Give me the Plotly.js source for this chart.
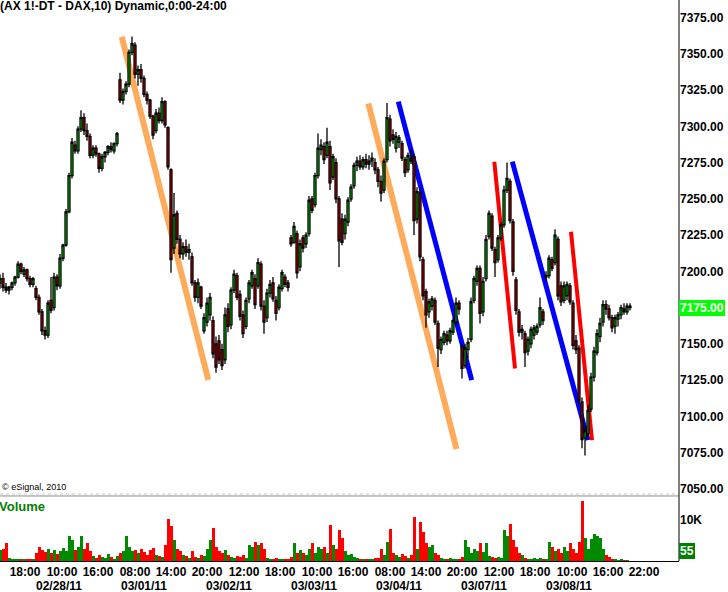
<!DOCTYPE html>
<html>
<head>
<meta charset="utf-8">
<script src="https://cdn.plot.ly/plotly-3.0.1.min.js"></script>
<style>html,body{margin:0;padding:0;background:#fff;}#chart{width:728px;height:592px;}</style>
</head>
<body>
<div id="chart"></div>
<script>
// ---- Data (10-minute DAX future bars, shown every third bar) ----
const open = [
7192,7195,7189,7187,7189,7192,7196,7205,7198,7201,7195,7191,
7188,7182,7172,7159,7156,7180,7175,7196,7190,7209,7218,7241,7266,7287,7283,7298,7306,7297,7293,7280,7285,7281,7271,7279,7282,7286,7283,7288,
7332,7318,7324,7329,7351,7356,7336,7339,7333,7322,7318,7307,7297,7309,7304,7317,7299,7270,7216,7240,7222,7212,7217,7213,7210,7192,7182,7189,
7159,7165,7170,7166,7150,7152,7146,7139,7174,7163,7187,7197,7184,7170,7162,7181,7190,7195,7190,7205,7176,7168,7185,7192,7180,7175,7188,7196,7192,
7223,7220,7226,7203,7223,7219,7226,7250,7246,7266,7284,7286,7280,7286,7265,7275,7250,7236,7226,7234,7250,7259,7273,7276,7272,7277,7274,7276,
7275,7270,7262,7256,7277,7305,7294,7285,7289,7288,7277,7270,7278,7279,7236,7254,7208,7186,7172,7176,7180,7164,7146,7151,7156,7152,7158,7165,7178,
7148,7135,7146,7153,7180,7193,7202,7172,7195,7224,7238,7215,7208,7223,7232,7256,7262,7234,7194,7172,7158,7157,7145,7150,7156,7158,7163,7172,
7196,7197,7208,7206,7222,7190,7180,7183,7190,7178,7152,7147,7110,7085,7088,7105,7127,7144,7155,7165,7177,7174,7168,7162,7167,7170,7174,7172,7176
];
const high = [
7198,7199,7192,7190,7193,7197,7207,7206,7203,7202,7197,7196,
7190,7184,7174,7162,7180,7196,7199,7198,7212,7219,7243,7268,7292,7290,7300,7311,7309,7302,7295,7287,7287,7282,7281,7283,7287,7289,7289,7296,
7337,7326,7331,7353,7362,7358,7342,7343,7335,7324,7319,7308,7312,7313,7320,7318,7300,7271,7254,7242,7225,7220,7222,7219,7213,7194,7195,7190,
7171,7182,7185,7169,7155,7156,7150,7175,7178,7189,7201,7199,7187,7173,7182,7194,7201,7198,7209,7207,7180,7188,7194,7196,7183,7191,7201,7198,7194,
7225,7234,7228,7222,7225,7227,7252,7252,7268,7295,7291,7289,7299,7290,7281,7278,7252,7240,7239,7251,7260,7275,7279,7280,7279,7281,7280,7282,
7278,7272,7266,7278,7316,7308,7298,7296,7294,7290,7279,7282,7284,7281,7258,7258,7210,7188,7181,7183,7182,7166,7155,7159,7159,7161,7168,7182,7180,
7150,7150,7154,7182,7197,7204,7204,7196,7225,7242,7240,7217,7225,7234,7259,7275,7264,7236,7196,7174,7163,7159,7155,7162,7163,7164,7182,7174,
7200,7211,7210,7229,7224,7193,7193,7193,7192,7180,7156,7149,7113,7094,7108,7130,7148,7160,7168,7180,7180,7177,7170,7170,7172,7177,7178,7178,7178
];
const low = [
7188,7186,7185,7184,7187,7190,7195,7198,7196,7193,7189,7189,
7180,7170,7156,7153,7154,7171,7173,7187,7188,7207,7217,7240,7264,7281,7281,7296,7294,7290,7278,7278,7279,7268,7269,7275,7280,7282,7281,7286,
7316,7315,7322,7327,7349,7333,7328,7330,7320,7315,7305,7291,7295,7302,7302,7299,7270,7199,7212,7219,7209,7208,7210,7208,7190,7179,7178,7174,
7157,7162,7166,7140,7130,7136,7132,7136,7158,7160,7185,7180,7166,7154,7160,7178,7188,7174,7188,7173,7157,7165,7182,7179,7166,7173,7186,7189,7186,
7217,7219,7195,7200,7213,7216,7224,7240,7244,7264,7280,7274,7278,7256,7263,7247,7203,7218,7222,7231,7248,7257,7269,7270,7270,7271,7270,7272,
7267,7258,7248,7254,7275,7286,7288,7282,7285,7276,7265,7268,7274,7225,7233,7207,7180,7161,7168,7173,7163,7134,7143,7149,7149,7150,7156,7163,7170,
7126,7133,7140,7151,7178,7190,7164,7169,7193,7222,7214,7196,7206,7221,7230,7254,7233,7197,7170,7155,7153,7134,7142,7147,7153,7156,7161,7163,
7193,7195,7200,7204,7180,7176,7178,7180,7177,7146,7143,7108,7078,7073,7085,7103,7124,7142,7151,7162,7170,7166,7158,7157,7162,7167,7170,7170,7173
];
const close = [
7195,7189,7187,7189,7192,7196,7205,7200,7201,7195,7191,7195,
7182,7172,7159,7156,7178,7173,7196,7190,7209,7218,7241,7266,7289,7283,7298,7306,7297,7293,7280,7285,7281,7271,7279,7282,7286,7284,7288,7295,
7318,7324,7329,7351,7357,7336,7339,7333,7322,7318,7307,7294,7309,7304,7317,7301,7272,7208,7239,7222,7212,7217,7213,7215,7192,7182,7192,7176,
7168,7178,7182,7143,7134,7139,7135,7170,7162,7187,7198,7182,7169,7157,7180,7192,7199,7177,7206,7176,7165,7185,7191,7181,7171,7189,7199,7191,7189,
7219,7231,7199,7219,7216,7225,7249,7242,7266,7285,7287,7277,7289,7261,7279,7250,7221,7220,7236,7249,7258,7273,7276,7272,7277,7274,7276,7278,
7270,7262,7254,7276,7306,7290,7291,7293,7292,7278,7268,7280,7276,7235,7255,7210,7183,7170,7179,7181,7165,7147,7153,7157,7152,7159,7166,7178,7174,
7133,7147,7151,7179,7195,7202,7171,7193,7222,7240,7216,7206,7223,7232,7256,7264,7235,7200,7173,7158,7160,7144,7153,7160,7161,7162,7175,7166,
7197,7209,7202,7225,7183,7179,7190,7191,7179,7149,7146,7111,7084,7090,7104,7127,7145,7157,7164,7177,7174,7168,7161,7168,7170,7175,7172,7176,7175
];
const volume = [
2700,3000,4300,800,500,600,400,600,500,400,500,600,
2000,3500,2800,2200,3000,2000,2600,1800,2400,3200,2500,6000,5000,2800,3500,6000,3000,4500,2500,1200,800,1500,1000,700,1600,900,600,1200,
2000,2500,6000,3500,2500,2800,2000,3000,2200,1500,2800,3200,1500,1200,1000,4000,10200,8500,5000,3000,2500,1500,1200,800,2500,1000,800,1500,
1200,3000,5000,8000,3500,2500,2000,2800,1500,1000,800,1200,900,1400,800,4000,3500,4700,3800,4500,3000,800,600,500,700,500,600,400,500,
1000,4300,2000,2800,2000,1500,3000,4500,2000,3500,3000,3500,2000,8800,4000,3000,7500,5500,2500,1500,1800,1000,800,500,600,400,500,600,
700,800,3000,1500,4700,7700,2000,1500,1000,1800,1200,800,1500,10800,3000,9600,7000,4500,3500,4000,2000,1500,800,500,600,700,500,600,500,
1000,5000,3500,2000,3000,2500,4500,2200,4500,1200,1000,800,1000,700,7500,6000,9000,5000,3500,2000,1500,800,600,500,700,600,800,500,
600,4700,3500,2500,3000,2000,3500,2500,4500,3000,2000,4700,14700,5500,3000,5300,6500,6200,5500,3000,1500,1000,500,400,300,400,300,200,55
];

// time axis: bar index counted from 02/28/11 08:00; 85 ten-minute bars per session (08:00-22:00)
const barsPerDay = 85, barsPerHour = 6, sessionStartHour = 8;
const firstBar = -35, barStep = 3;

const timeLabels = ['18:00','10:00','16:00','08:00','14:00','20:00','12:00','18:00','10:00','16:00','08:00','14:00','20:00','12:00','18:00','10:00','16:00','22:00'];
const timeLabelDays = [-1,0,0,1,1,1,2,2,3,3,4,4,4,5,5,6,6,6];
const dateLabels = ['02/28/11','03/01/11','03/02/11','03/03/11','03/04/11','03/07/11','03/08/11'];
const dateLabelDays = [0,1,2,3,4,5,6];

// hand-drawn trend lines (bar index, price)
const trendBarStart   = [86.7, 333.3, 363.3, 459.3, 477.3, 536];
const trendPriceStart = [7361.8, 7315.8, 7317, 7275.6, 7275.6, 7227.3];
const trendBarEnd     = [173.3, 421.5, 436.7, 480, 553, 557];
const trendPriceEnd   = [7125, 7077.5, 7125, 7133, 7083.6, 7083.6];
const trendKind       = ['orange','orange','blue','red','blue','red'];

// ---- Build ----
const barOf = (day, hhmm) => day * barsPerDay + (parseInt(hhmm, 10) - sessionStartHour) * barsPerHour;
const x = close.map((_, i) => firstBar + i * barStep);
const timeTickBars = timeLabels.map((t, i) => barOf(timeLabelDays[i], t));
const dateTickBars = dateLabelDays.map(d => d * barsPerDay);

const trendStyle = {orange: {color: '#ffab5c', width: 6}, blue: {color: '#0000ff', width: 5}, red: {color: '#ff0000', width: 4}};
const volColors = close.map((c, i) => c >= open[i] ? '#008a00' : '#ff0000');

const boldFont = {family: 'Liberation Sans, Arial, sans-serif', size: 12, color: '#000', weight: 'bold'};
const xRange = [-35, 644];

const traces = [
  {
    type: 'candlestick', x: x, open: open, high: high, low: low, close: close,
    xaxis: 'x', yaxis: 'y', hoverinfo: 'skip', whiskerwidth: 0,
    increasing: {line: {color: '#000', width: 1.3}, fillcolor: '#00ff00'},
    decreasing: {line: {color: '#000', width: 1.3}, fillcolor: '#ff0000'}
  },
  {
    type: 'bar', x: x, y: volume, xaxis: 'x', yaxis: 'y2', hoverinfo: 'skip',
    marker: {color: volColors, line: {width: 0}}
  },
  {type: 'scatter', x: [], y: [], xaxis: 'x2', yaxis: 'y2', hoverinfo: 'skip', showlegend: false}
];

const shapes = trendKind.map((k, i) => ({
  type: 'line', xref: 'x', yref: 'y', layer: 'below',
  x0: trendBarStart[i], y0: trendPriceStart[i], x1: trendBarEnd[i], y1: trendPriceEnd[i],
  line: trendStyle[k]
}));
shapes.push(
  {type: 'line', xref: 'paper', yref: 'paper', x0: 0, x1: 1, y0: 0.1194, y1: 0.1194, line: {color: '#c8c8c8', width: 1, dash: 'dot'}},
  {type: 'line', xref: 'paper', yref: 'paper', x0: 0, x1: 1, y0: 0.1159, y1: 0.1159, line: {color: '#8c8c8c', width: 1}},
  {type: 'line', xref: 'paper', yref: 'paper', x0: 1, x1: 1, y0: 0, y1: 1, line: {color: '#000', width: 1}}
);

const lastClose = close[close.length - 1];
const lastVolume = volume[volume.length - 1];

const layout = {
  width: 728, height: 592,
  margin: {l: 0, r: 49, t: 0, b: 31, pad: 0},
  paper_bgcolor: '#fff', plot_bgcolor: '#fff',
  showlegend: false,
  font: {family: 'Liberation Sans, Arial, sans-serif', size: 12, color: '#000'},
  title: {
    text: '(AX 1!-DT - DAX,10) Dynamic,0:00-24:00',
    x: 0, xref: 'paper', xanchor: 'left', y: 1, yref: 'container', yanchor: 'top',
    pad: {t: 2, l: 0, r: 0, b: 0}, font: boldFont
  },
  bargap: 0, boxgap: 0.05,
  xaxis: {
    range: xRange, anchor: 'y2', showgrid: false, zeroline: false,
    showline: true, linecolor: '#000', linewidth: 1, ticks: '',
    tickmode: 'array', tickvals: timeTickBars, ticktext: timeLabels,
    ticklabelshift: 15, tickfont: boldFont,
    rangeslider: {visible: false}, automargin: false, fixedrange: true
  },
  xaxis2: {
    range: xRange, overlaying: 'x', anchor: 'y2', side: 'bottom',
    showgrid: false, zeroline: false, showline: false, ticks: '',
    tickmode: 'array', tickvals: dateTickBars, ticktext: dateLabels,
    ticklabelshift: 24, ticklabelstandoff: 16, tickfont: boldFont,
    automargin: false, fixedrange: true
  },
  yaxis: {
    domain: [0.1194, 1], range: [7046.4, 7387.1], side: 'right', anchor: 'x',
    tick0: 7050, dtick: 25, tickformat: '.2f', showgrid: false, zeroline: false,
    showline: false, ticks: '', tickfont: boldFont, automargin: false, fixedrange: true
  },
  yaxis2: {
    domain: [0, 0.1141], range: [0, 15600], side: 'right', anchor: 'x',
    tickmode: 'array', tickvals: [10000], ticktext: ['10K'],
    showgrid: false, zeroline: false, showline: false, ticks: '',
    tickfont: boldFont, automargin: false, fixedrange: true
  },
  shapes: shapes,
  annotations: [
    {xref: 'paper', x: 1, xanchor: 'left', yref: 'y', y: lastClose, yanchor: 'middle',
     text: lastClose.toFixed(2), showarrow: false, bgcolor: '#00ff00', borderpad: 1, borderwidth: 0,
     font: {family: 'Liberation Sans, Arial, sans-serif', size: 12, color: '#fff', weight: 'bold'}},
    {xref: 'paper', x: 1, xanchor: 'left', yref: 'paper', y: 0.017, yanchor: 'middle',
     text: String(lastVolume), showarrow: false, bgcolor: '#008000', borderpad: 1, borderwidth: 0,
     font: {family: 'Liberation Sans, Arial, sans-serif', size: 12, color: '#fff', weight: 'bold'}},
    {xref: 'paper', x: 0, xanchor: 'left', yref: 'paper', y: 0.132, yanchor: 'middle',
     text: '© eSignal, 2010', showarrow: false,
     font: {family: 'Liberation Sans, Arial, sans-serif', size: 9, color: '#000'}},
    {xref: 'paper', x: 0, xanchor: 'left', xshift: -3, yref: 'paper', y: 0.0963, yanchor: 'middle',
     text: 'Volume', showarrow: false,
     font: {family: 'Liberation Sans, Arial, sans-serif', size: 13, color: '#008000', weight: 'bold'}}
  ]
};

Plotly.newPlot('chart', traces, layout, {staticPlot: true, displayModeBar: false});
</script>
</body>
</html>
